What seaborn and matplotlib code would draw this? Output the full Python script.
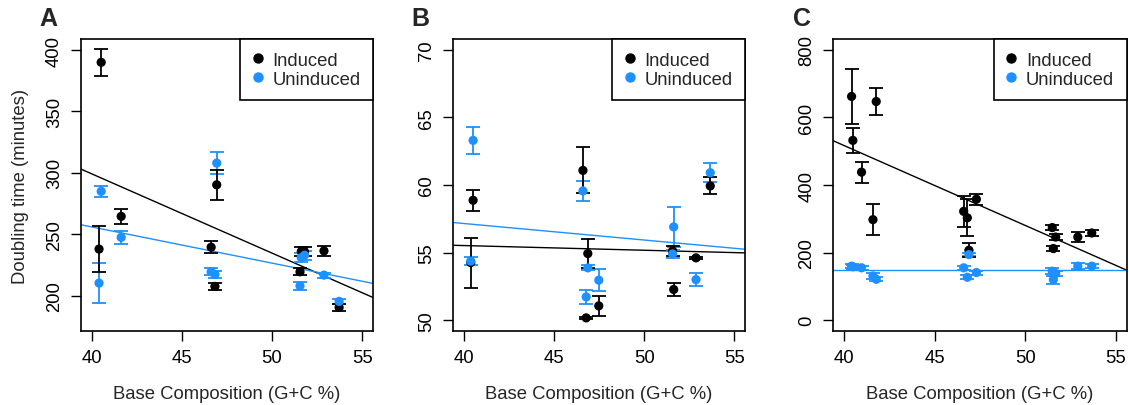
import numpy as np
import pandas as pd
import matplotlib
matplotlib.use("Agg")
import matplotlib.pyplot as plt
from matplotlib.lines import Line2D
import seaborn as sns

# ---------------- data ----------------
gc_A = [40.40, 40.52, 41.63, 46.62, 46.83, 46.93, 51.55, 51.62, 51.80, 52.88, 53.72]
ind_A = [238, 390, 264.6, 239.5, 207.6, 290.3, 219.5, 236, 236, 236.5, 190.5]
ind_err_A = [19, 11, 6, 5, 3, 12, 3, 4, 4, 4, 3]
unind_A = [210.3, 285, 247.5, 219.5, 217.4, 308, 208, 231, 233, 216.8, 195.4]
unind_err_A = [16, 4.5, 5, 3, 3, 9, 3, 3.5, 3.5, 2, 2]

gc_B = [40.37, 40.50, 46.60, 46.78, 46.87, 47.48, 51.58, 51.64, 52.88, 53.67]
ind_B = [54.26, 58.87, 61.08, 50.17, 54.93, 51.06, 55.12, 52.27, 54.61, 59.93]
ind_err_B = [1.85, 0.78, 1.7, 0.1, 1.1, 0.74, 0.37, 0.5, 0.1, 0.63]
unind_B = [54.37, 63.3, 59.56, 51.72, 53.87, 52.96, 54.9, 56.9, 53.0, 60.91]
unind_err_B = [0.31, 1.0, 0.76, 0.54, 0.18, 0.8, 0.3, 1.5, 0.48, 0.7]

gc_C = [40.41, 40.48, 40.96, 41.59, 41.77, 46.60, 46.80, 46.89, 47.30, 51.49, 51.55, 51.68, 52.90, 53.67]
ind_C = [662, 532, 438, 297.5, 647, 322, 303, 207, 358, 274, 212, 246, 246, 258]
ind_err_C = [81, 37, 31, 46, 41, 46, 55, 20, 16, 7, 7, 10, 15, 8]
unind_C = [160, 158, 155, 131, 121, 155, 127, 194, 141, 145, 120, 138, 160, 160]
unind_err_C = [6, 6, 6, 8, 6, 6, 6, 5, 6, 8, 12, 8, 8, 6]

# regression lines: (intercept at GC=40, slope)
fit_ind = {"A": (299.2, -6.45), "B": (55.52, -0.0347), "C": (516.6, -23.63)}
fit_unind = {"A": (256.0, -2.946), "B": (57.15, -0.122), "C": (148.0, 0.0)}

groups = ["Induced", "Uninduced"]
panel_labels = ["A", "B", "C"]
x_ticks = [40, 45, 50, 55]
y_ticks = {"A": [200, 250, 300, 350, 400], "B": [50, 55, 60, 65, 70], "C": [0, 200, 400, 600, 800]}
y_lims = {"A": (171.3, 409.0), "B": (49.2, 70.8), "C": (-32, 832)}

# ---------------- style ----------------
sns.set_style("ticks")
plt.rcParams["font.family"] = ["Liberation Sans", "DejaVu Sans"]
colors = {"Induced": "black", "Uninduced": "#1E90FF"}
FS = 13.3

fig = plt.figure(figsize=(11.29, 4.06), dpi=100)
W, H = 1129, 406
lefts = [81, 453.3, 833.3]
rights = [373, 745, 1126.7]
top_px, bot_px = 40, 332

data = {
    "A": (gc_A, ind_A, ind_err_A, unind_A, unind_err_A),
    "B": (gc_B, ind_B, ind_err_B, unind_B, unind_err_B),
    "C": (gc_C, ind_C, ind_err_C, unind_C, unind_err_C),
}
letter_x = [39, 411.7, 793]

for i, p in enumerate(panel_labels):
    ax = fig.add_axes([lefts[i] / W, 1 - bot_px / H, (rights[i] - lefts[i]) / W, (bot_px - top_px) / H])
    gc, ind, ind_err, un, un_err = data[p]
    df = pd.DataFrame({
        "gc": list(gc) * 2,
        "time": list(ind) + list(un),
        "err": list(ind_err) + list(un_err),
        "group": ["Induced"] * len(gc) + ["Uninduced"] * len(gc),
    })
    ax.set_xlim(39.4, 55.6)
    ax.set_ylim(*y_lims[p])
    # regression lines
    for g, fits in (("Induced", fit_ind), ("Uninduced", fit_unind)):
        b0, b1 = fits[p]
        ax.axline((40, b0), slope=b1, color=colors[g], lw=1.0, zorder=1)
    # error bars
    for g in ["Uninduced", "Induced"]:
        sub = df[df.group == g]
        ax.errorbar(sub.gc, sub.time, yerr=sub.err, fmt="none", ecolor=colors[g],
                    elinewidth=1.3, capsize=4.8, capthick=1.3, zorder=2)
    sns.scatterplot(data=df, x="gc", y="time", hue="group", palette=colors,
                    hue_order=["Uninduced", "Induced"], s=44, edgecolor="none",
                    legend=False, ax=ax, zorder=3)
    ax.set_xticks(x_ticks)
    ax.set_yticks(y_ticks[p])
    ax.tick_params(axis="both", direction="out", length=7, width=1.0, labelsize=FS,
                   color="black", labelcolor="black", pad=6)
    ax.tick_params(axis="y", labelrotation=90)
    for lab in ax.get_yticklabels():
        lab.set_va("center")
    for s in ax.spines.values():
        s.set_visible(True)
        s.set_color("black")
        s.set_linewidth(1.2)
    ax.set_xlabel("Base Composition (G+C %)", fontsize=FS, labelpad=14)
    if p == "A":
        ax.set_ylabel("Doubling time (minutes)", fontsize=FS, labelpad=12)
    else:
        ax.set_ylabel("")
    handles = [Line2D([0], [0], marker="o", color="none", markerfacecolor=colors[g],
                      markeredgecolor="none", markersize=7.5, label=g) for g in groups]
    leg = ax.legend(handles=handles, loc="upper right", borderaxespad=0, fontsize=FS,
                    frameon=True, fancybox=False, framealpha=1, edgecolor="black",
                    handletextpad=0.55, labelspacing=0.12, borderpad=0.68, handlelength=0.5)
    leg.get_frame().set_linewidth(1.2)
    fig.text(letter_x[i] / W, 1 - 19 / H, p, fontsize=18, fontweight="bold",
             ha="left", va="center")

fig.savefig("out.png", dpi=100)
